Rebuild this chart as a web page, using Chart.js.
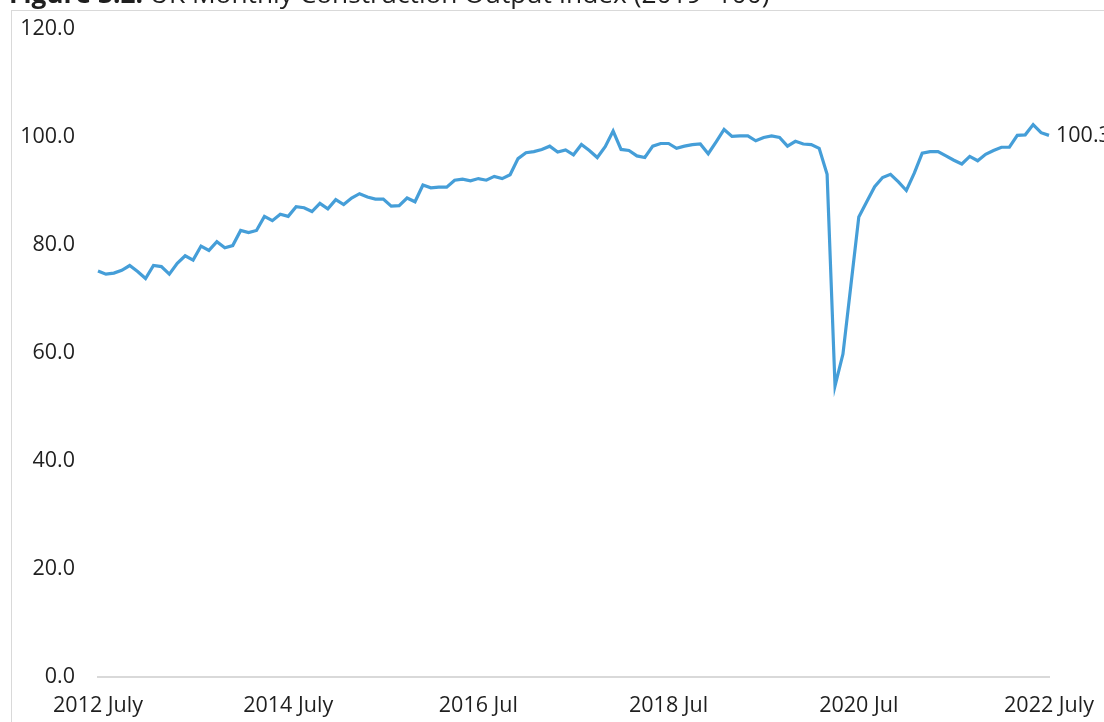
<!DOCTYPE html>
<html>
<head>
<meta charset="utf-8">
<script src="https://cdn.jsdelivr.net/npm/chart.js@4/dist/chart.umd.min.js"></script>
<style>
  html, body { margin: 0; padding: 0; background: #fff; overflow: hidden; width: 1104px; height: 722px; }
  #box { position: absolute; left: 11px; top: 10px; width: 1200px; height: 800px; border: 1px solid #d9d9d9; box-sizing: border-box; }
  #c { position: absolute; left: 0; top: 0; }
</style>
</head>
<body>
<div id="box"></div>
<canvas id="c" width="1104" height="722"></canvas>
<script>
const TITLE_BOLD = "Figure 3.2:";
const TITLE_REST = " UK Monthly Construction Output Index (2019=100)";

// Monthly index, July 2012 .. July 2022 (121 months)
const values = [
  75.2, 74.6, 74.8, 75.3, 76.2, 75.1, 73.8, 76.2, 76.0, 74.6, 76.6, 78.0,
  77.2, 79.8, 79.0, 80.6, 79.5, 79.9, 82.7, 82.3, 82.7, 85.3, 84.5, 85.7,
  85.3, 87.1, 86.9, 86.2, 87.7, 86.7, 88.4, 87.5, 88.7, 89.5, 88.9, 88.5,
  88.5, 87.2, 87.3, 88.7, 88.0, 91.1, 90.6, 90.7, 90.7, 92.0, 92.2, 91.9,
  92.3, 92.0, 92.7, 92.3, 93.0, 96.0, 97.1, 97.3, 97.7, 98.3, 97.2, 97.6,
  96.7, 98.6, 97.5, 96.2, 98.2, 101.1, 97.7, 97.5, 96.5, 96.2, 98.3, 98.8,
  98.8, 97.9, 98.3, 98.6, 98.7, 96.9, 99.1, 101.4, 100.1, 100.2, 100.2, 99.3,
  99.9, 100.2, 99.9, 98.3, 99.2, 98.7, 98.6, 97.9, 93.1, 53.9, 59.8, 72.5,
  85.2, 88.0, 90.8, 92.5, 93.1, 91.7, 90.1, 93.3, 97.0, 97.3, 97.3, 96.5,
  95.7, 95.0, 96.4, 95.6, 96.8, 97.5, 98.1, 98.1, 100.3, 100.4, 102.3, 100.8,
  100.3
];

const monthNames = ["Jan","Feb","Mar","Apr","May","Jun","Jul","Aug","Sep","Oct","Nov","Dec"];
const categories = [];
for (let i = 0; i < values.length; i++) {
  const m = (6 + i) % 12;
  const y = 2012 + Math.floor((6 + i) / 12);
  categories.push(y + " " + monthNames[m]);
}

// Tick labels shown on the x axis (every 24 months)
const tickIndexes = [0, 24, 48, 72, 96, 120];
const tickLabels = ["2012 July", "2014 July", "2016 Jul", "2018 Jul", "2020 Jul", "2022 July"];

const endLabel = "100.3";

const FONT = "'Open Sans', sans-serif";
const TEXT = "#1f1f1f";
const LINE = "#459ed8";
const FS = 21.5;

// target plot area (layout)
const TARGET = { top: 29, right: 1049 };

const extras = {
  id: 'extras',
  afterDraw(chart) {
    const ctx = chart.ctx;
    ctx.save();
    // title (clipped at top)
    ctx.textBaseline = 'alphabetic';
    ctx.textAlign = 'left';
    ctx.fillStyle = TEXT;
    ctx.font = "bold 26.3px " + FONT;
    ctx.fillText(TITLE_BOLD, 9, 3);
    const w = ctx.measureText(TITLE_BOLD).width;
    ctx.font = "26.3px " + FONT;
    ctx.fillText(TITLE_REST, 9 + w, 3);
    // end label
    const meta = chart.getDatasetMeta(0);
    const last = meta.data[meta.data.length - 1];
    ctx.font = FS + "px " + FONT;
    ctx.textBaseline = 'middle';
    ctx.fillText(endLabel, last.x + 7, last.y);
    ctx.restore();
  }
};

const chart = new Chart(document.getElementById('c'), {
  type: 'line',
  data: {
    labels: categories,
    datasets: [{
      data: values,
      borderColor: LINE,
      borderWidth: 3.2,
      pointRadius: 0,
      tension: 0,
      fill: false
    }]
  },
  options: {
    responsive: false,
    animation: false,
    layout: { padding: { top: 29, right: 55, left: 0, bottom: 0 } },
    plugins: { legend: { display: false }, tooltip: { enabled: false }, title: { display: false } },
    scales: {
      x: {
        offset: false,
        grid: { display: true, drawOnChartArea: false, drawTicks: true, tickLength: 16, color: 'rgba(0,0,0,0)' },
        border: { display: true, color: '#d9d9d9', width: 2 },
        afterFit(scale) { scale.height = 45; },
        ticks: {
          autoSkip: false,
          maxRotation: 0,
          minRotation: 0,
          padding: 0,
          color: TEXT,
          font: { family: FONT, size: FS },
          callback(value, index) {
            const k = tickIndexes.indexOf(index);
            return k >= 0 ? tickLabels[k] : null;
          }
        }
      },
      y: {
        min: 0,
        max: 120,
        grid: { display: true, drawOnChartArea: false, drawTicks: true, tickLength: 23, color: 'rgba(0,0,0,0)' },
        border: { display: false },
        afterFit(scale) { scale.width = 98; },
        ticks: {
          stepSize: 20,
          padding: 0,
          color: TEXT,
          font: { family: FONT, size: FS },
          callback(v) { return Number(v).toFixed(1); }
        }
      }
    }
  },
  plugins: [extras]
});

// nudge layout padding so the plot area lands where the reference has it
for (let k = 0; k < 3; k++) {
  const ca = chart.chartArea;
  const p = chart.options.layout.padding;
  p.top = Math.max(0, p.top + (TARGET.top - ca.top));
  p.right = Math.max(0, p.right + (ca.right - TARGET.right));
  chart.update();
}
</script>
</body>
</html>
